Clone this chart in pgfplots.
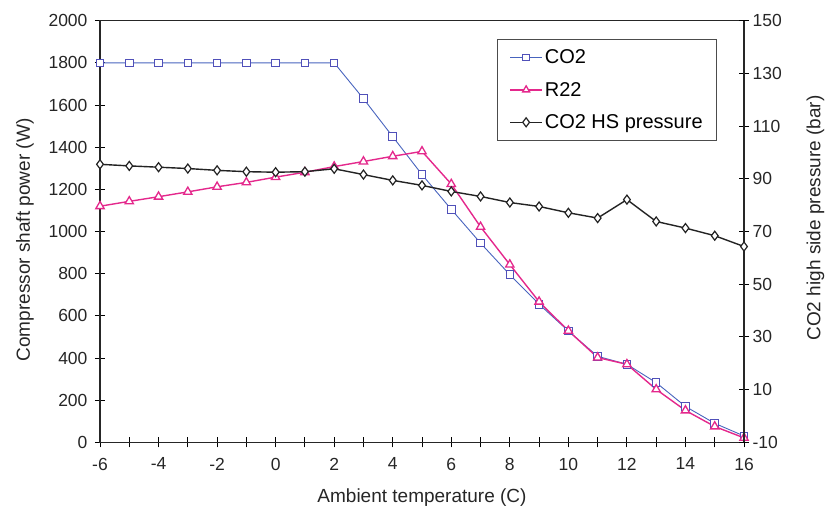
\documentclass[border=0pt]{standalone}
\usepackage{fontspec}
\setmainfont{Liberation Sans}
\usepackage{pgfplots}
\pgfplotsset{compat=1.18}
\definecolor{co2c}{RGB}{72,100,190}
\definecolor{co2m}{RGB}{80,80,185}
\definecolor{r22c}{RGB}{228,40,140}
\definecolor{prc}{RGB}{35,35,35}
\pgfplotsset{
  co2style/.style={color=co2c, line width=0.9pt, mark=square*, mark size=3.8pt, mark options={fill=white, draw=co2m, line width=1pt}},
  r22style/.style={color=r22c, line width=1.4pt, mark=triangle*, mark size=4.8pt, mark options={fill=white, draw=r22c, line width=1.3pt}},
  prstyle/.style={color=prc, line width=1.4pt, mark=diamond*, mark size=4.5pt, mark options={fill=white, draw=prc, line width=1.2pt}},
  myaxis/.style={
    at={(0,0)}, anchor=south west, scale only axis, width=644pt, height=421.6pt,
    xmin=-6, xmax=16,
    tick align=center, major tick length=10pt, minor tick length=10pt,
    every tick/.style={black, line width=0.9pt},
    axis line style={line width=1.1pt, black!85},
    /pgf/number format/assume math mode=true,
    /pgf/number format/1000 sep={},
    tick label style={font=\fontsize{17.5}{17.5}\selectfont, text=black!85},
    label style={font=\fontsize{19}{19}\selectfont, text=black!85},
  }
}
\begin{document}
\begin{tikzpicture}
\path[use as bounding box] (-100pt,-66.7pt) rectangle (726pt,442.3pt);
\begin{axis}[myaxis,
  ymin=0, ymax=2000,
  xtick={-6,-4,...,16}, minor xtick={-5,-3,...,15},
  ytick={0,200,...,2000},
  xtick pos=bottom, ytick pos=left,
  xticklabel style={yshift=-7pt},
  yticklabel style={xshift=-4pt},
  xlabel={Ambient temperature (C)},
  ylabel={Compressor shaft power (W)},
  xlabel style={at={(axis description cs:0.5,0)}, anchor=north, yshift=-43pt},
  ylabel style={at={(axis description cs:-0.1165,0.48)}, anchor=center, rotate=0},
]
\addplot[co2style] coordinates {
(-6,1800) (-5,1800) (-4,1800) (-3,1800) (-2,1800) (-1,1800) (0,1800) (1,1800) (2,1800)
(3,1630) (4,1450) (5,1270) (6,1105) (7,945) (8,795) (9,655) (10,528) (11,408) (12,370)
(13,283) (14,170) (15,90) (16,30)};
\addplot[r22style] coordinates {
(-6,1120) (-5,1143) (-4,1165) (-3,1188) (-2,1212) (-1,1233) (0,1258) (1,1281) (2,1308)
(3,1332) (4,1357) (5,1380) (6,1225) (7,1022) (8,843) (9,667) (10,529) (11,402) (12,370)
(13,251) (14,151) (15,75) (16,21)};
\end{axis}
\begin{axis}[myaxis,
  ymin=-10, ymax=150,
  axis x line=none, axis y line*=right,
  ytick={-10,10,...,150},
  ylabel={CO2 high side pressure (bar)},
  ylabel style={at={(axis description cs:1.111,0.532)}, anchor=center, rotate=0},
  legend style={at={(0.6165,0.956)}, anchor=north west, draw=black!70, line width=0.8pt, fill=white,
    font=\fontsize{20}{20}\selectfont, row sep=13pt, inner xsep=12pt, inner ysep=8pt},
  legend cell align=left,
  legend image code/.code={\draw[mark repeat=2,mark phase=2] plot coordinates {(0pt,0pt) (16pt,0pt) (32pt,0pt)};},
]
\addlegendimage{co2style, mark size=3.2pt}
\addlegendentry{CO2}
\addlegendimage{r22style, mark size=4pt}
\addlegendentry{R22}
\addplot[prstyle] coordinates {
(-6,95.5) (-5,94.9) (-4,94.4) (-3,93.9) (-2,93.2) (-1,92.7) (0,92.5) (1,92.7) (2,93.8)
(3,91.6) (4,89.4) (5,87.5) (6,85.2) (7,83.3) (8,81.0) (9,79.5) (10,77.1) (11,75.1) (12,82.1)
(13,73.8) (14,71.3) (15,68.4) (16,64.3)};
\addlegendentry{CO2 HS pressure}
\end{axis}
\end{tikzpicture}
\end{document}
